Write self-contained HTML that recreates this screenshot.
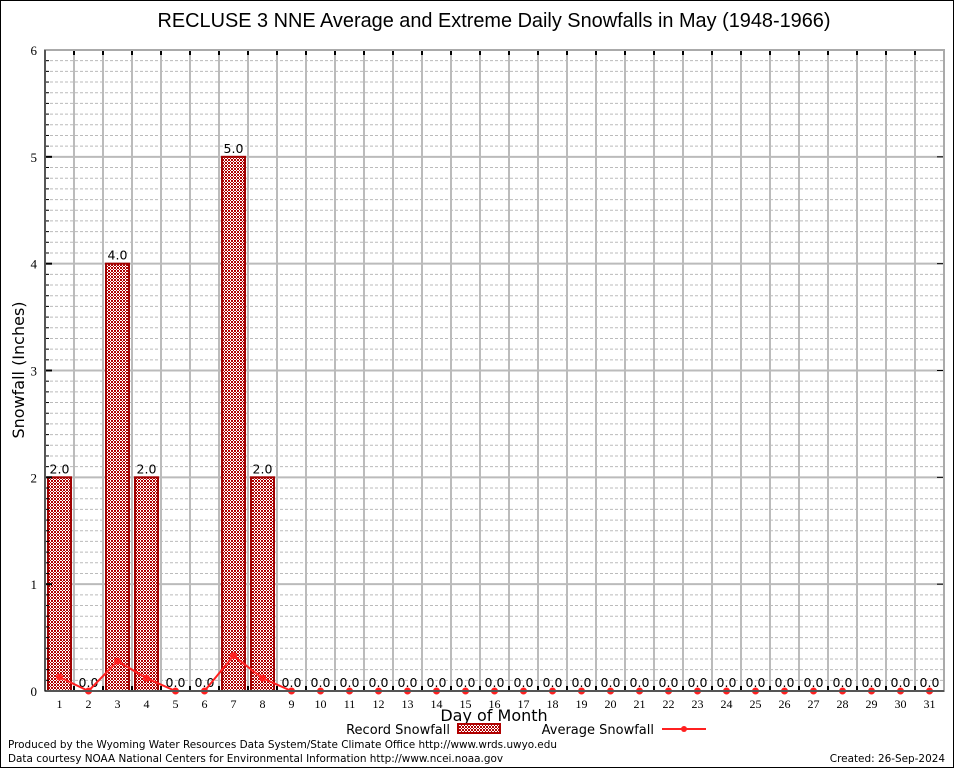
<!DOCTYPE html>
<html><head><meta charset="utf-8"><style>
body{margin:0;background:#fff;}
svg{display:block;font-family:"Liberation Sans",sans-serif;}
.serif{font-family:"Liberation Serif",serif;}
.dv{font-family:"DejaVu Sans","Liberation Sans",sans-serif;}
</style></head><body>
<svg id="chart" width="954" height="768" viewBox="0 0 954 768">
<defs>
<pattern id="hatch" width="3" height="3" patternUnits="userSpaceOnUse">
<rect width="3" height="3" fill="#fff"/>
<rect width="2" height="2" fill="#b00000"/>
<rect x="2" y="2" width="1" height="1" fill="#b00000"/>
</pattern>
</defs>
<rect x="0.5" y="0.5" width="953" height="767" fill="#fff" stroke="#000"/>
<text x="494" y="27" font-size="19.9" text-anchor="middle">RECLUSE 3 NNE Average and Extreme Daily Snowfalls in May (1948-1966)</text>
<g id="grid"></g>
<g id="bars"></g>
<g id="line"></g>
<g id="axes"></g>
<text transform="translate(24,370) rotate(-90)" font-size="16" text-anchor="middle" class="dv">Snowfall (Inches)</text>
<text x="494" y="721" font-size="16" text-anchor="middle" class="dv">Day of Month</text>
<g>
<text x="450" y="734" font-size="13" text-anchor="end" class="dv">Record Snowfall</text>
<rect x="458" y="724" width="42" height="9" fill="url(#hatch)" stroke="#b00000" stroke-width="2"/>
</g>
<g>
<text x="654" y="734" font-size="13" text-anchor="end" class="dv">Average Snowfall</text>
<line x1="662" y1="729" x2="706" y2="729" stroke="#ff2020" stroke-width="2"/>
<circle cx="684" cy="729" r="3" fill="#ff2020"/>
</g>
<text x="8" y="748" font-size="10.45" class="dv">Produced by the Wyoming Water Resources Data System/State Climate Office http://www.wrds.uwyo.edu</text>
<text x="8" y="762" font-size="10.45" class="dv">Data courtesy NOAA National Centers for Environmental Information http://www.ncei.noaa.gov</text>
<text x="945" y="762" font-size="10.45" text-anchor="end" class="dv">Created:  26-Sep-2024</text>
</svg>
<script>
const days = Array.from({length:31},(_,i)=>i+1);
const recordSnow = [2,0,4,2,0,0,5,2,0,0,0,0,0,0,0,0,0,0,0,0,0,0,0,0,0,0,0,0,0,0,0];
const avgSnow = [0.13,0,0.28,0.12,0,0,0.33,0.12,0,0,0,0,0,0,0,0,0,0,0,0,0,0,0,0,0,0,0,0,0,0,0];
const yTicks = [0,1,2,3,4,5,6];

const L=45,R=944,T=50,B=691,yMax=6;
const step=(R-L)/31;
const xc=d=>L+step*(d-0.5);
const y=v=>B-(v/yMax)*(B-T);
const NS="http://www.w3.org/2000/svg";
function mk(tag,attrs,parent){const e=document.createElementNS(NS,tag);for(const k in attrs)e.setAttribute(k,attrs[k]);parent.appendChild(e);return e;}
const grid=document.getElementById('grid'),bars=document.getElementById('bars'),line=document.getElementById('line'),axes=document.getElementById('axes');

for(let i=1;i<yMax*10;i++){ if(i%10===0)continue;
  const l=mk('line',{x1:L,x2:R,y1:y(i/10),y2:y(i/10),stroke:'#bbb','stroke-dasharray':'3,2','stroke-width':1},grid);
  
  
  mk('line',{x1:L,x2:L+4,y1:y(i/10),y2:y(i/10),stroke:'#000'},axes);
}
yTicks.forEach(t=>{
  const l=mk('line',{x1:L,x2:R,y1:y(t),y2:y(t),stroke:'#bbb','stroke-width':2},grid);
  
  
  mk('line',{x1:L,x2:L+7,y1:y(t),y2:y(t),stroke:'#000','stroke-width':2},axes);
  mk('line',{x1:R-7,x2:R,y1:y(t),y2:y(t),stroke:'#000','stroke-width':1},axes);
  const tx=mk('text',{x:L-8,y:y(t)+5,'font-size':13,'text-anchor':'end','class':'serif'},axes);
  tx.textContent=t;
  
  
});
for(let k=1;k<31;k++){
  const x=L+step*k;
  const l=mk('line',{x1:x,x2:x,y1:T,y2:B,stroke:'#bbb','stroke-width':2},grid);
  
  
  mk('line',{x1:x,x2:x,y1:T,y2:T+5,stroke:'#000','stroke-width':2},axes);
  mk('line',{x1:x,x2:x,y1:B-5,y2:B,stroke:'#000','stroke-width':2},axes);
}
mk('rect',{x:L,y:T,width:R-L,height:B-T,fill:'none',stroke:'#aaa','stroke-width':2},axes);
mk('line',{x1:L,x2:L,y1:T,y2:B,stroke:'#000','stroke-width':1},axes);
mk('line',{x1:L,x2:R,y1:B,y2:B,stroke:'#000','stroke-width':1},axes);

days.forEach((d,i)=>{
  const v=recordSnow[i];
  if(v>0){
    const r=mk('rect',{x:xc(d)-11.5,y:y(v),width:23,height:B-y(v),fill:'url(#hatch)',stroke:'#a00000','stroke-width':2},bars);
    
    
  }
  const lb=mk('text',{x:xc(d),y:y(v)-4,'font-size':12.5,'text-anchor':'middle','class':'dv'},bars);
  lb.textContent=v.toFixed(1);
  
  
  const tx=mk('text',{x:xc(d),y:B+17,'font-size':12,'text-anchor':'middle','class':'serif'},axes);
  tx.textContent=d;
  
  
});
const pl=mk('polyline',{points:days.map((d,i)=>xc(d)+','+y(avgSnow[i])).join(' '),fill:'none',stroke:'#ff2020','stroke-width':2},line);


days.forEach((d,i)=>{
  const c=mk('circle',{cx:xc(d),cy:y(avgSnow[i]),r:3.5,fill:'#ff2020'},line);
  
  
});
</script>
</body></html>
